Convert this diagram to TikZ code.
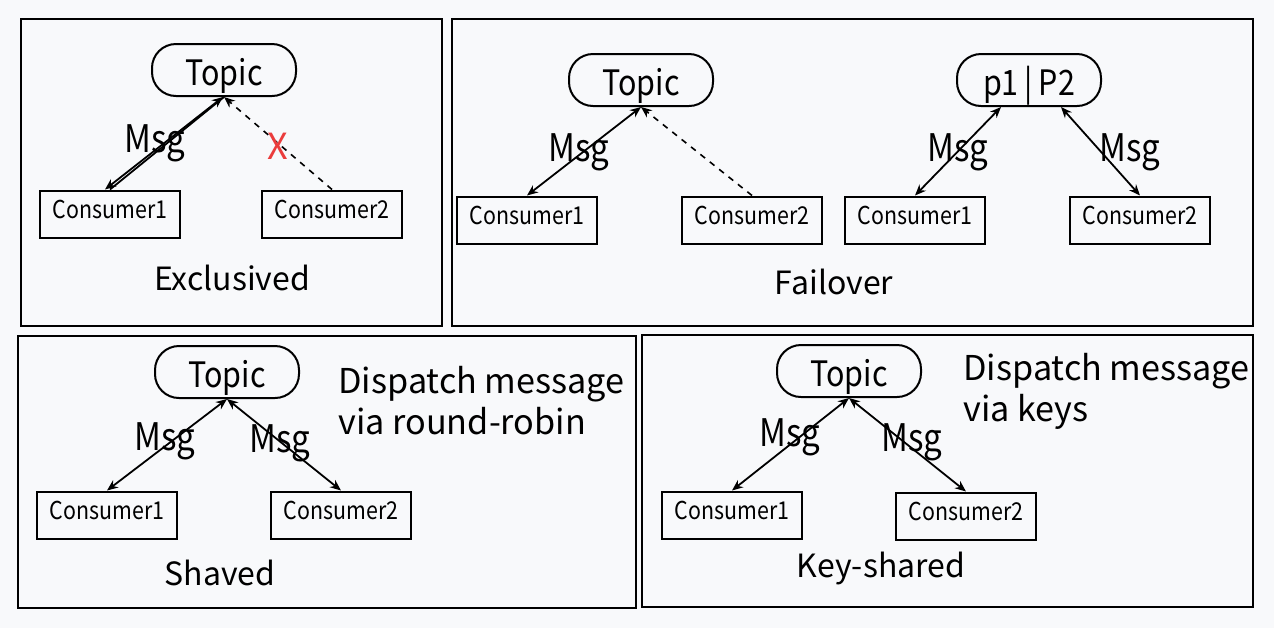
\documentclass[tikz,border=0pt]{standalone}
\usepackage{fontspec}
\setmainfont{Noto Sans CJK SC}
\newfontfamily\narrowfont[FakeStretch=0.87]{Noto Sans CJK SC}
\usetikzlibrary{arrows.meta}
\definecolor{bgcol}{RGB}{248,249,251}
\definecolor{xred}{RGB}{235,60,60}
\tikzstyle{panel}=[draw,line width=1pt]
\tikzstyle{topic}=[draw,line width=1pt,rounded corners=12pt,minimum width=72pt,minimum height=26pt,inner sep=0pt,text height=15pt,text depth=0pt,font=\narrowfont\fontsize{17.5}{20}\selectfont]
\tikzstyle{consumer}=[draw,line width=1pt,minimum width=70pt,minimum height=23.5pt,inner sep=0pt,text height=8.1pt,text depth=3.6pt,font=\narrowfont\fontsize{12.3}{14}\selectfont]
\tikzstyle{edge} = [draw,line width=0.9pt,{Stealth[length=5.5pt,width=4.5pt]}-{Stealth[length=5.5pt,width=4.5pt]}]
\tikzstyle{lostedge} = [draw,line width=0.8pt,dashed,-{Stealth[length=5.5pt,width=4.5pt]}]
\tikzstyle{weight} = [font=\narrowfont\fontsize{19}{21}\selectfont,inner sep=0pt]
\tikzstyle{caption} = [font=\fontsize{16}{19}\selectfont,inner sep=0pt]
\tikzstyle{note} = [font=\fontsize{17.1}{20.5}\selectfont,inner sep=0pt,align=left,anchor=north west]

\begin{document}
\begin{tikzpicture}[x=0.5pt,y=-0.5pt]
    \useasboundingbox[fill=bgcol] (0,0) rectangle (1274,628);
    % Four panels
    \draw[panel] (21,19) rectangle (442,326);
    \draw[panel] (452,19) rectangle (1253,326);
    \draw[panel] (18,336) rectangle (636,608);
    \draw[panel] (642,335) rectangle (1253,607);

    % Topics
    \foreach \pos/\name/\txt in {{(224,70)/ex topic/Topic}, {(641,80)/fo topic/Topic}, {(1029,80)/fo part/p1\,|\,P2}, {(227,372)/sh topic/Topic}, {(849,371)/ks topic/Topic}}
        \node[topic] (\name) at \pos {\txt};

    % Consumers
    \foreach \pos/\name/\txt in {{(110,214)/ex c1/Consumer1}, {(332,214)/ex c2/Consumer2}, {(527,220)/fo c1/Consumer1}, {(752,220)/fo c2/Consumer2}, {(915,220)/fp c1/Consumer1}, {(1140,220)/fp c2/Consumer2}, {(107,515)/sh c1/Consumer1}, {(341,515)/sh c2/Consumer2}, {(732,515)/ks c1/Consumer1}, {(966,516)/ks c2/Consumer2}}
        \node[consumer] (\name) at \pos {\txt};

    % Exclusived
    \path[edge] ([xshift=-2.5pt]ex c1.north) -- ([xshift=-0.5pt]ex topic.south);
    \path[draw,line width=0.9pt] (ex c1.north) -- (ex topic.south);
    \path[lostedge] (ex c2.north) -- (ex topic.south);
    \node[weight] (ex msg) at (155,143) {Msg};
    \node[text=xred,font=\fontsize{18}{20}\selectfont,inner sep=0pt] (ex cross) at (278,146) {X};
    \node[caption] (ex cap) at (232,278) {Exclusived};

    % Failover
    \path[edge] (fo c1.north) -- (fo topic.south);
    \path[lostedge] (fo c2.north) -- (fo topic.south);
    \path[edge] (fp c1.north) -- ([xshift=-14pt]fo part.south);
    \path[edge] (fp c2.north) -- ([xshift=16pt]fo part.south);
    \node[weight] (fo msg) at (579,152) {Msg};
    \node[weight] (fp msg1) at (958,152) {Msg};
    \node[weight] (fp msg2) at (1130,152) {Msg};
    \node[caption] (fo cap) at (834,282) {Failover};

    % Shaved
    \path[edge] (sh c1.north) -- (sh topic.south);
    \path[edge] (sh c2.north) -- (sh topic.south);
    \node[weight] (sh msg1) at (165,441) {Msg};
    \node[weight] (sh msg2) at (280,443) {Msg};
    \node[caption] (sh cap) at (220,573) {Shaved};
    \node[note] (sh note) at (338,366) {Dispatch message\\via round-robin};

    % Key-shared
    \path[edge] (ks c1.north) -- (ks topic.south);
    \path[edge] (ks c2.north) -- (ks topic.south);
    \node[weight] (ks msg1) at (790,437) {Msg};
    \node[weight] (ks msg2) at (912,442) {Msg};
    \node[caption] (ks cap) at (881,568) {Key-shared};
    \node[note] (ks note) at (963,353) {Dispatch message\\via keys};
\end{tikzpicture}
\end{document}
